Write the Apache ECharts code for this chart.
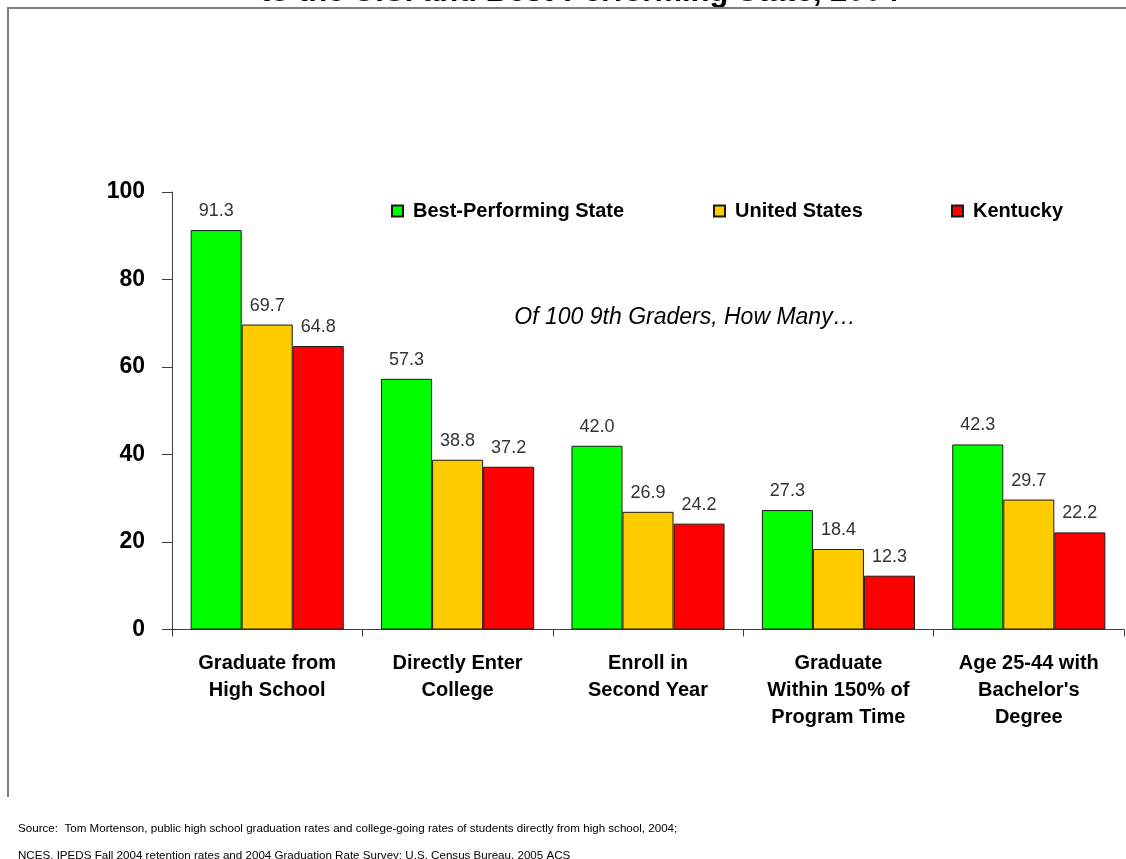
<!DOCTYPE html>
<html>
<head>
<meta charset="utf-8">
<title>Of 100 9th Graders, How Many…</title>
<script src="https://cdn.jsdelivr.net/npm/echarts@6/dist/echarts.min.js"></script>
<style>
  html, body { margin: 0; padding: 0; background: #fff; }
  #chart { width: 1126px; height: 859px; }
</style>
</head>
<body>
<div id="chart"></div>
<script>
// Pipeline stages (category axis)
const categories = [
  'Graduate from\nHigh School',
  'Directly Enter\nCollege',
  'Enroll in\nSecond Year',
  'Graduate\nWithin 150% of\nProgram Time',
  "Age 25-44 with\nBachelor's\nDegree"
];

// Series values: of 100 9th graders
const bestState = [91.3, 57.3, 42.0, 27.3, 42.3];
const unitedStates = [69.7, 38.8, 26.9, 18.4, 29.7];
const kentucky = [64.8, 37.2, 24.2, 12.3, 22.2];

const seriesNames = ['Best-Performing State', 'United States', 'Kentucky'];
const seriesColors = ['#00FF00', '#FFCC00', '#FF0000'];

// Value axis
const yMin = 0;
const yMax = 100;
const yStep = 20;

const titleLine = 'to the U.S. and Best-Performing State, 2004';
const subtitle = 'Of 100 9th Graders, How Many…';
const sourceLines = [
  'Source:  Tom Mortenson, public high school graduation rates and college-going rates of students directly from high school, 2004;',
  'NCES, IPEDS Fall 2004 retention rates and 2004 Graduation Rate Survey; U.S. Census Bureau, 2005 ACS'
];

const FONT = 'Arial, "Liberation Sans", sans-serif';

const chart = echarts.init(document.getElementById('chart'), null, { renderer: 'canvas' });

function barSeries(name, data, color) {
  return {
    name: name,
    type: 'bar',
    data: data,
    barGap: '0%',
    barCategoryGap: '19.6%',
    itemStyle: { color: color, borderColor: '#1a1a1a', borderWidth: 1 },
    emphasis: { disabled: true },
    label: {
      show: true,
      position: 'top',
      distance: 10,
      fontFamily: FONT,
      fontSize: 18,
      color: '#333',
      formatter: p => Number(p.value).toFixed(1)
    }
  };
}

function legendAt(left, name) {
  return {
    left: left,
    top: 196,
    itemWidth: 11,
    itemHeight: 11,
    icon: 'rect',
    selectedMode: false,
    data: [name],
    textStyle: {
      fontFamily: FONT,
      fontSize: 20,
      fontWeight: 'bold',
      color: '#000',
      padding: [0, 0, 0, 5]
    }
  };
}

const option = {
  backgroundColor: '#fff',
  animation: false,
  legend: [
    legendAt(386, seriesNames[0]),
    legendAt(708, seriesNames[1]),
    legendAt(946, seriesNames[2])
  ],
  grid: { left: 172, right: 2, top: 192, bottom: 229.5 },
  xAxis: {
    type: 'category',
    data: categories,
    axisLine: { show: true, lineStyle: { color: '#404040', width: 1 } },
    axisTick: { show: true, length: 7, alignWithLabel: false, lineStyle: { color: '#404040' } },
    axisLabel: {
      margin: 20,
      interval: 0,
      fontFamily: FONT,
      fontSize: 20,
      fontWeight: 'bold',
      lineHeight: 27,
      color: '#000',
      align: 'center'
    },
    splitLine: { show: false }
  },
  yAxis: {
    type: 'value',
    min: yMin,
    max: yMax,
    interval: yStep,
    axisLine: { show: true, lineStyle: { color: '#404040', width: 1 } },
    axisTick: { show: true, length: 10, lineStyle: { color: '#404040' } },
    axisLabel: {
      margin: 27,
      fontFamily: FONT,
      fontSize: 23,
      fontWeight: 'bold',
      color: '#000'
    },
    splitLine: { show: false }
  },
  series: [
    barSeries(seriesNames[0], bestState, seriesColors[0]),
    barSeries(seriesNames[1], unitedStates, seriesColors[1]),
    barSeries(seriesNames[2], kentucky, seriesColors[2])
  ],
  graphic: [
    // frame around the slide body
    {
      type: 'polyline',
      shape: { points: [[8, 797], [8, 8], [1126, 8]] },
      style: { stroke: '#808080', lineWidth: 2, fill: null },
      silent: true,
      z: 10
    },
    // second title line, running off the top edge
    {
      type: 'text',
      x: 260,
      y: 7.5,
      style: {
        text: titleLine,
        font: 'bold 31px ' + FONT,
        fill: '#000',
        align: 'left',
        verticalAlign: 'bottom'
      },
      silent: true
    },
    {
      type: 'text',
      x: 685,
      y: 318,
      style: {
        text: subtitle,
        font: 'italic 23px ' + FONT,
        fill: '#000',
        align: 'center',
        verticalAlign: 'middle'
      },
      silent: true
    },
    {
      type: 'text',
      x: 18,
      y: 829,
      style: {
        text: sourceLines[0],
        font: '11.6px ' + FONT,
        fill: '#000',
        align: 'left',
        verticalAlign: 'middle'
      },
      silent: true
    },
    {
      type: 'text',
      x: 18,
      y: 856,
      style: {
        text: sourceLines[1],
        font: '11.6px ' + FONT,
        fill: '#000',
        align: 'left',
        verticalAlign: 'middle'
      },
      silent: true
    }
  ]
};

chart.setOption(option);
</script>
</body>
</html>
